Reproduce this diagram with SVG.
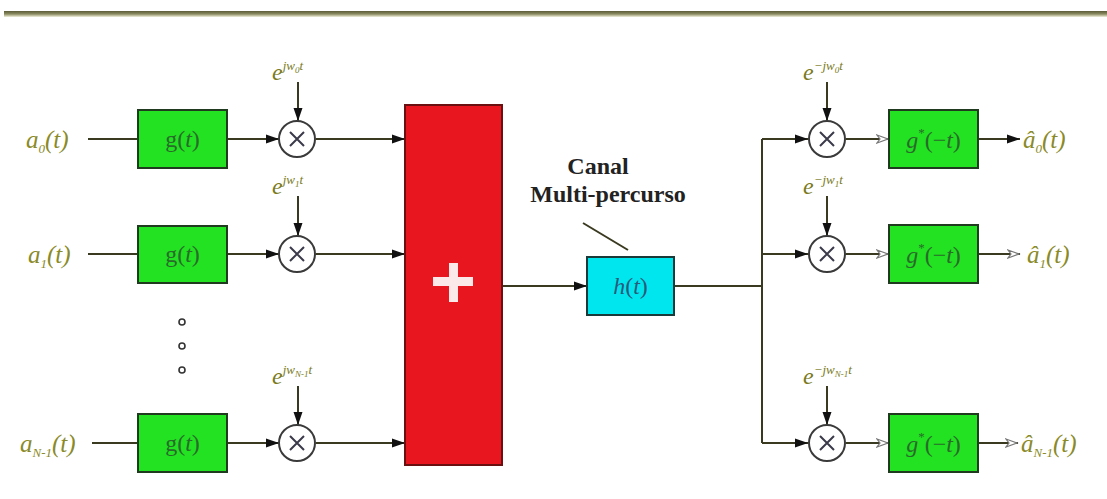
<svg xmlns="http://www.w3.org/2000/svg" width="1107" height="499" viewBox="0 0 1107 499">
<style>
.ln{stroke:#3a3a20;stroke-width:2;fill:none}
.gbox{fill:#22e222;stroke:#1f3a1f;stroke-width:2}
.mul{fill:#fff;stroke:#3a3a3a;stroke-width:2}
.x{stroke:#3a3a4a;stroke-width:2}
.lbl{font-family:"Liberation Serif",serif;font-style:italic;font-size:25px;fill:#8a8a28}
.exp{font-family:"Liberation Serif",serif;font-style:italic;font-size:24px;fill:#7a7a20}
.sup{font-size:13px}
.gt{font-family:"Liberation Serif",serif;font-size:24px;fill:#2a6a2a}
.cap{font-family:"Liberation Serif",serif;font-weight:bold;font-size:24px;fill:#222}
</style>
<defs>
<linearGradient id="rule" x1="0" y1="0" x2="0" y2="1">
<stop offset="0" stop-color="#5b5b3a"/>
<stop offset="0.5" stop-color="#8a8a60"/>
<stop offset="1" stop-color="#f0f0dc"/>
</linearGradient>
<marker id="af" markerUnits="userSpaceOnUse" markerWidth="14" markerHeight="10" refX="13" refY="5" orient="auto">
<path d="M0,0.5 L13,5 L0,9.5 z" fill="#111"/>
</marker>
<marker id="ao" markerUnits="userSpaceOnUse" markerWidth="14" markerHeight="12" refX="13" refY="5" orient="auto">
<path d="M1,1 L12,5 L1,9 L4,5 z" fill="#fff" stroke="#777" stroke-width="1.2"/>
</marker>
</defs>
<rect x="4" y="11" width="1103" height="6" fill="url(#rule)"/>

<g id="connectors">
<line class="ln" x1="88" y1="139" x2="138" y2="139"/>
<line class="ln" x1="227" y1="139" x2="279" y2="139" marker-end="url(#af)"/>
<line class="ln" x1="298" y1="82" x2="298" y2="121" marker-end="url(#af)"/>
<line class="ln" x1="316" y1="139" x2="405" y2="139" marker-end="url(#af)"/>

<line class="ln" x1="88" y1="254" x2="138" y2="254"/>
<line class="ln" x1="227" y1="254" x2="279" y2="254" marker-end="url(#af)"/>
<line class="ln" x1="298" y1="196" x2="298" y2="236" marker-end="url(#af)"/>
<line class="ln" x1="316" y1="254" x2="405" y2="254" marker-end="url(#af)"/>

<line class="ln" x1="92" y1="443" x2="138" y2="443"/>
<line class="ln" x1="227" y1="443" x2="279" y2="443" marker-end="url(#af)"/>
<line class="ln" x1="298" y1="386" x2="298" y2="425" marker-end="url(#af)"/>
<line class="ln" x1="316" y1="443" x2="405" y2="443" marker-end="url(#af)"/>

<line class="ln" x1="502" y1="286" x2="587" y2="286" marker-end="url(#af)"/>
<line class="ln" x1="583" y1="223" x2="628" y2="250"/>
<line class="ln" x1="674" y1="286" x2="762" y2="286"/>
<line class="ln" x1="762" y1="139" x2="762" y2="443"/>

<line class="ln" x1="762" y1="139" x2="808" y2="139" marker-end="url(#af)"/>
<line class="ln" x1="827" y1="82" x2="827" y2="121" marker-end="url(#af)"/>
<line class="ln" x1="846" y1="139" x2="889" y2="139" marker-end="url(#ao)"/>
<line class="ln" x1="978" y1="139" x2="1020" y2="139" marker-end="url(#af)"/>

<line class="ln" x1="762" y1="254" x2="808" y2="254" marker-end="url(#af)"/>
<line class="ln" x1="827" y1="196" x2="827" y2="236" marker-end="url(#af)"/>
<line class="ln" x1="846" y1="254" x2="889" y2="254" marker-end="url(#ao)"/>
<line class="ln" x1="978" y1="254" x2="1020" y2="254" marker-end="url(#ao)"/>

<line class="ln" x1="762" y1="443" x2="808" y2="443" marker-end="url(#af)"/>
<line class="ln" x1="827" y1="386" x2="827" y2="425" marker-end="url(#af)"/>
<line class="ln" x1="846" y1="443" x2="889" y2="443" marker-end="url(#ao)"/>
<line class="ln" x1="978" y1="443" x2="1018" y2="443" marker-end="url(#ao)"/>
</g>

<g id="in0"><text class="lbl" x="26" y="148">a<tspan class="sup" dy="5">0</tspan><tspan dy="-5">(t)</tspan></text></g>
<g id="in1"><text class="lbl" x="28" y="263">a<tspan class="sup" dy="5">1</tspan><tspan dy="-5">(t)</tspan></text></g>
<g id="inN"><text class="lbl" x="20" y="452">a<tspan class="sup" dy="5">N-1</tspan><tspan dy="-5">(t)</tspan></text></g>

<g id="g0"><rect class="gbox" x="138" y="110" width="89" height="58"/><text class="gt" x="182.5" y="147" text-anchor="middle">g(<tspan font-style="italic">t</tspan>)</text></g>
<g id="g1"><rect class="gbox" x="138" y="226" width="89" height="57"/><text class="gt" x="182.5" y="262" text-anchor="middle">g(<tspan font-style="italic">t</tspan>)</text></g>
<g id="gN"><rect class="gbox" x="138" y="414" width="89" height="58"/><text class="gt" x="182.5" y="451" text-anchor="middle">g(<tspan font-style="italic">t</tspan>)</text></g>

<g id="dots" fill="none" stroke="#333" stroke-width="1.6">
<circle cx="182" cy="322" r="3"/><circle cx="182" cy="346" r="3"/><circle cx="182" cy="370" r="3"/>
</g>

<g id="e0"><text class="exp" x="272" y="80">e<tspan class="sup" dy="-10">jw<tspan font-size="9" dy="3">0</tspan><tspan dy="-3">t</tspan></tspan></text></g>
<g id="e1"><text class="exp" x="272" y="194">e<tspan class="sup" dy="-10">jw<tspan font-size="9" dy="3">1</tspan><tspan dy="-3">t</tspan></tspan></text></g>
<g id="eN"><text class="exp" x="272" y="384">e<tspan class="sup" dy="-10">jw<tspan font-size="9" dy="3">N-1</tspan><tspan dy="-3">t</tspan></tspan></text></g>

<g id="m0"><circle class="mul" cx="297" cy="139" r="18"/><path class="x" d="M290,132 L304,146 M304,132 L290,146"/></g>
<g id="m1"><circle class="mul" cx="297" cy="254" r="18"/><path class="x" d="M290,247 L304,261 M304,247 L290,261"/></g>
<g id="mN"><circle class="mul" cx="297" cy="443" r="18"/><path class="x" d="M290,436 L304,450 M304,436 L290,450"/></g>

<g id="sum"><rect x="405" y="105" width="97" height="360" fill="#e8161e" stroke="#6a1010" stroke-width="2"/>
<rect x="433" y="277" width="40" height="9" fill="#fbe8e8"/><rect x="449" y="263" width="9" height="39" fill="#fbe8e8"/></g>

<g id="canalLabel"><text class="cap" x="598" y="174" text-anchor="middle">Canal</text><text class="cap" x="608" y="202" text-anchor="middle">Multi-percurso</text></g>
<g id="h"><rect x="587" y="257" width="87" height="58" fill="#00e6ef" stroke="#1a3a3a" stroke-width="2"/><text class="gt" x="630.5" y="294" text-anchor="middle" style="fill:#2a5a7a"><tspan font-style="italic">h</tspan>(<tspan font-style="italic">t</tspan>)</text></g>

<g id="r_e0"><text class="exp" x="803" y="80">e<tspan class="sup" dy="-10">−jw<tspan font-size="9" dy="3">0</tspan><tspan dy="-3">t</tspan></tspan></text></g>
<g id="r_e1"><text class="exp" x="803" y="194">e<tspan class="sup" dy="-10">−jw<tspan font-size="9" dy="3">1</tspan><tspan dy="-3">t</tspan></tspan></text></g>
<g id="r_eN"><text class="exp" x="803" y="384">e<tspan class="sup" dy="-10">−jw<tspan font-size="9" dy="3">N-1</tspan><tspan dy="-3">t</tspan></tspan></text></g>

<g id="rm0"><circle class="mul" cx="827" cy="139" r="18"/><path class="x" d="M820,132 L834,146 M834,132 L820,146"/></g>
<g id="rm1"><circle class="mul" cx="827" cy="254" r="18"/><path class="x" d="M820,247 L834,261 M834,247 L820,261"/></g>
<g id="rmN"><circle class="mul" cx="827" cy="443" r="18"/><path class="x" d="M820,436 L834,450 M834,436 L820,450"/></g>

<g id="rg0"><rect class="gbox" x="889" y="110" width="89" height="58"/><text class="gt" x="933.5" y="148" text-anchor="middle"><tspan font-style="italic">g</tspan><tspan font-size="13" dy="-11">*</tspan><tspan dy="11">(−</tspan><tspan font-style="italic">t</tspan>)</text></g>
<g id="rg1"><rect class="gbox" x="889" y="225" width="89" height="58"/><text class="gt" x="933.5" y="263" text-anchor="middle"><tspan font-style="italic">g</tspan><tspan font-size="13" dy="-11">*</tspan><tspan dy="11">(−</tspan><tspan font-style="italic">t</tspan>)</text></g>
<g id="rgN"><rect class="gbox" x="889" y="414" width="89" height="58"/><text class="gt" x="933.5" y="452" text-anchor="middle"><tspan font-style="italic">g</tspan><tspan font-size="13" dy="-11">*</tspan><tspan dy="11">(−</tspan><tspan font-style="italic">t</tspan>)</text></g>

<g id="out0"><text class="lbl" x="1023" y="148">â<tspan class="sup" dy="5">0</tspan><tspan dy="-5">(t)</tspan></text></g>
<g id="out1"><text class="lbl" x="1027" y="263">â<tspan class="sup" dy="5">1</tspan><tspan dy="-5">(t)</tspan></text></g>
<g id="outN"><text class="lbl" x="1021" y="452">â<tspan class="sup" dy="5">N-1</tspan><tspan dy="-5">(t)</tspan></text></g>
</svg>
